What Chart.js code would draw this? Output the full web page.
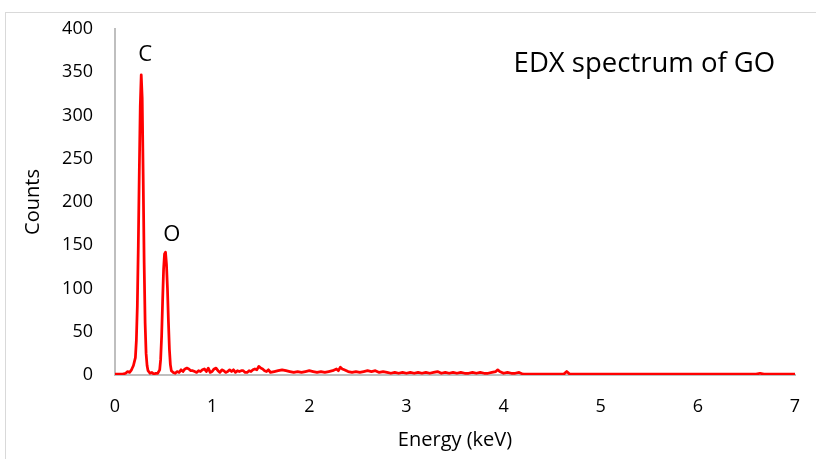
<!DOCTYPE html>
<html>
<head>
<meta charset="utf-8">
<script src="https://cdn.jsdelivr.net/npm/chart.js@4.4.0/dist/chart.umd.min.js"></script>
<style>
  html, body { margin: 0; padding: 0; background: #ffffff; }
  #wrap { position: relative; width: 816px; height: 459px; overflow: hidden; }
  #frame { position: absolute; left: 5px; top: 12px; width: 900px; height: 600px; border: 1px solid #d9d9d9; pointer-events: none; }
  canvas { position: absolute; left: 0; top: 0; }
</style>
</head>
<body>
<div id="wrap">
  <div id="frame"></div>
  <canvas id="c" width="816" height="459"></canvas>
</div>
<script>
// ---- data ----
const peakEnergy = [0.00,0.04,0.08,0.11,0.13,0.15,0.17,0.19,0.21,0.22,0.23,0.24,0.25,0.26,0.27,0.28,0.29,0.30,0.31,0.32,0.33,0.34,0.36,0.38,0.40,0.42,0.44,0.46,0.47,0.48,0.49,0.50,0.51,0.52,0.53,0.54,0.55,0.56,0.57,0.58,0.60];
const peakCounts = [1,1,1,2,4,3,6,11,20,40,80,150,235,310,347,320,230,130,60,25,11,5,2,3,1,2,2,6,18,45,85,122,140,142,128,100,62,30,12,5,3];

const noiseEnergy = [0.62,0.64,0.66,0.68,0.70,0.72,0.74,0.76,0.78,0.80,0.82,0.84,0.86,0.88,0.90,0.92,0.94,0.96,0.98,1.00,1.02,1.04,1.06,1.08,1.10,1.12,1.14,1.16,1.18,1.20,1.22,1.24,1.26,1.28,1.30,1.32,1.34,1.36,1.38,1.40,1.42,1.44,1.46,1.48,1.50,1.52,1.54,1.56,1.58,1.60,1.64,1.68,1.72,1.76,1.80,1.84,1.88,1.92,1.96,2.00,2.04,2.08,2.12,2.16,2.20,2.24,2.28,2.30,2.32,2.34,2.36,2.40,2.44,2.48,2.52,2.56,2.60,2.64,2.68,2.72,2.76,2.80,2.84,2.88,2.92,2.96,3.00,3.04,3.08,3.12,3.16,3.20,3.24,3.28,3.32,3.36,3.40,3.44,3.48,3.52,3.56,3.60,3.64,3.68,3.72,3.76,3.80,3.84,3.88,3.92,3.94,3.96,4.00,4.04,4.08,4.12,4.16,4.20];
const noiseCounts = [2,4,3,6,4,7,8,7,5,5,4,3,5,4,6,7,4,8,3,4,7,8,5,3,6,5,3,4,6,4,6,3,5,4,5,5,3,3,5,4,6,7,6,10,8,7,5,4,6,3,4,5,6,5,4,3,4,3,4,5,4,3,4,3,4,5,7,5,9,7,6,4,3,4,3,4,5,4,5,3,4,3,2,3,2,3,2,3,2,3,2,3,2,3,4,2,3,2,3,2,3,2,2,3,2,3,2,2,3,4,6,4,2,3,2,2,3,1];

const tailEnergy = [4.30,4.50,4.62,4.65,4.68,4.80,5.00,5.50,6.00,6.60,6.64,6.68,7.00];
const tailCounts = [1,1,1,4,1,1,1,1,1,1,2,1,1];

const xTicks = [0,1,2,3,4,5,6,7];
const yTicks = [0,50,100,150,200,250,300,350,400];
const peakLabels = [{text:'C', x:0.31, y:370}, {text:'O', x:0.585, y:162}];
const chartTitle = 'EDX spectrum of GO';

// ---- build points ----
const energies = peakEnergy.concat(noiseEnergy, tailEnergy);
const counts = peakCounts.concat(noiseCounts, tailCounts);
const points = energies.map((e, i) => ({x: e, y: counts[i]}));

const FONT = "'Open Sans', 'Liberation Sans', sans-serif";

const textPlugin = {
  id: 'texts',
  afterDatasetsDraw(chart) {
    const {ctx, scales} = chart;
    ctx.save();
    ctx.fillStyle = '#000000';
    ctx.textAlign = 'center';
    ctx.textBaseline = 'middle';
    ctx.font = "22px " + FONT;
    peakLabels.forEach(l => {
      ctx.fillText(l.text, scales.x.getPixelForValue(l.x), scales.y.getPixelForValue(l.y));
    });
    ctx.font = "27.5px " + FONT;
    ctx.fillText(chartTitle, scales.x.getPixelForValue(5.45), scales.y.getPixelForValue(359));
    ctx.restore();
  }
};

function noPad(s) { s.paddingLeft = 0; s.paddingRight = 0; s.paddingTop = 0; s.paddingBottom = 0; }

new Chart(document.getElementById('c'), {
  type: 'scatter',
  data: {
    datasets: [{
      data: points,
      showLine: true,
      borderColor: '#ff0000',
      backgroundColor: '#ff0000',
      borderWidth: 2.75,
      borderJoinStyle: 'round',
      borderCapStyle: 'round',
      pointRadius: 0,
      tension: 0
    }]
  },
  options: {
    responsive: false,
    animation: false,
    layout: { padding: { left: 0, right: 21, top: 29, bottom: 0 } },
    plugins: { legend: { display: false }, tooltip: { enabled: false } },
    scales: {
      x: {
        type: 'linear', min: 0, max: 7,
        afterBuildTicks(s) { s.ticks = xTicks.map(v => ({value: v})); },
        afterFit(s) { s.height = 84; noPad(s); },
        grid: { display: false, drawTicks: false },
        border: { display: true, color: '#bfbfbf', width: 2 },
        ticks: { color: '#000000', font: { family: FONT, size: 18 }, padding: 21, maxRotation: 0 },
        title: { display: true, text: 'Energy (keV)', color: '#000000', font: { family: FONT, size: 20 }, padding: { top: 0, bottom: 7 } }
      },
      y: {
        type: 'linear', min: 0, max: 400,
        afterBuildTicks(s) { s.ticks = yTicks.map(v => ({value: v})); },
        afterFit(s) { s.width = 115; noPad(s); },
        grid: { display: false, drawTicks: false },
        border: { display: true, color: '#bfbfbf', width: 2 },
        ticks: { color: '#000000', font: { family: FONT, size: 18 }, padding: 22 },
        title: { display: true, text: 'Counts', color: '#000000', font: { family: FONT, size: 20 }, padding: { top: 21, bottom: 0 } }
      }
    }
  },
  plugins: [textPlugin]
});
</script>
</body>
</html>
